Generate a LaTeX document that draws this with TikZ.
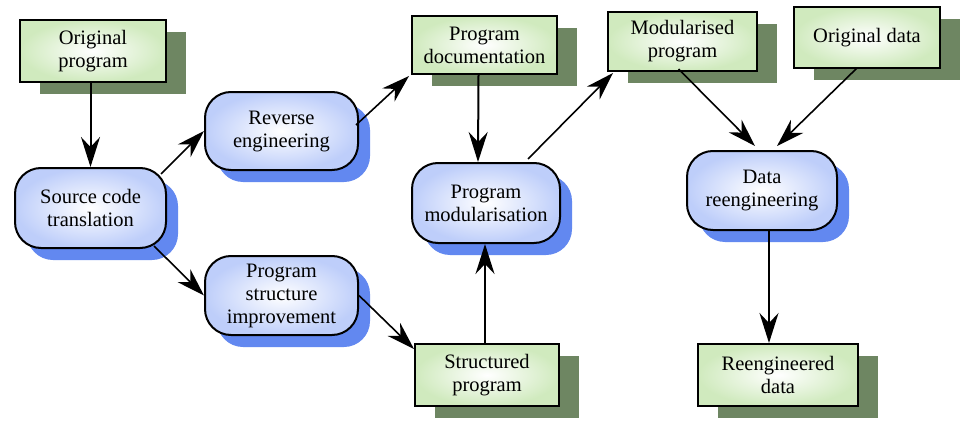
\documentclass[tikz,border=0pt]{standalone}
\usepackage{fontspec}
\setmainfont{Liberation Serif}
\usetikzlibrary{arrows.meta,shadows,calc}
\definecolor{gshadow}{RGB}{110,134,98}
\definecolor{bshadow}{RGB}{98,136,240}
\definecolor{gedge}{RGB}{208,234,190}
\definecolor{bedge}{RGB}{190,206,250}
\tikzset{
  txt/.style={font=\fontsize{20.5}{23}\selectfont, align=center, inner sep=0pt},
  databox/.style={txt, draw=black, line width=2pt, rectangle,
    inner color=white, outer color=gedge,
    general shadow={shadow xshift=20pt, shadow yshift=-12pt, fill=gshadow}},
  procbox/.style={txt, draw=black, line width=2pt, rectangle, rounded corners=26pt,
    inner color=white, outer color=bedge,
    general shadow={shadow xshift=12pt, shadow yshift=-12pt, fill=bshadow}},
  conn/.style={line width=2pt, -{Stealth[length=30pt, width=19pt, inset=10pt]}},
  connd/.style={line width=1.6pt, -{Stealth[length=28pt, width=18pt, inset=9pt]}}
}
\begin{document}
\begin{tikzpicture}[x=1pt, y=-1pt]
\useasboundingbox (0,0) rectangle (966,436);
% data boxes
\node[databox, minimum width=146pt, minimum height=62pt] (orig) at (93,51) {Original\\program};
\node[databox, minimum width=145pt, minimum height=58pt] (pdoc) at (484.5,45) {Program\\documentation};
\node[databox, minimum width=144pt, minimum height=62pt] (spg) at (487,375) {Structured\\program};
\node[databox, minimum width=149pt, minimum height=59pt] (modp) at (682.5,41.5) {Modularised\\program};
\node[databox, minimum width=146pt, minimum height=61pt] (odata) at (867,37.5) {Original data};
\node[databox, minimum width=160pt, minimum height=62pt] (rdata) at (778,375) {Reengineered\\data};
% process boxes
\node[procbox, minimum width=151pt, minimum height=80pt] (src) at (90.5,208) {Source code\\translation};
\node[procbox, minimum width=153pt, minimum height=78pt] (rev) at (281.5,131) {Reverse\\engineering};
\node[procbox, minimum width=153pt, minimum height=79pt] (psi) at (281.5,295.5) {Program\\structure\\improvement};
\node[procbox, minimum width=148pt, minimum height=80pt] (pmod) at (486,203) {Program\\modularisation};
\node[procbox, minimum width=150pt, minimum height=79pt] (dre) at (762,190.5) {Data\\reengineering};
% connectors
\draw[conn] (orig.south -| src.north) -- (src.north);
\draw[connd] ($(src.north east)+(-6,7)$) -- (rev.west);
\draw[connd] ($(src.south east)+(-13,-3)$) -- (psi.west);
\draw[connd] ($(rev.east)+(-3,-6)$) -- ($(pdoc.south west)+(-2,1)$);
\draw[conn] ($(pdoc.south)+(-6,0)$) -- ($(pmod.north)+(-8,0)$);
\draw[connd] ($(pmod.north)+(42,-3)$) -- ($(modp.south west)+(6,1)$);
\draw[connd] (psi.east) -- ($(spg.north west)+(0,6)$);
\draw[conn] ($(spg.north)+(-2,0)$) -- ($(pmod.south)+(-1,0)$);
\draw[connd] ($(modp.south)+(-4,-3)$) -- ($(dre.north)+(-7,-4)$);
\draw[connd] ($(odata.south)+(-10,-1)$) -- ($(dre.north)+(15,-4)$);
\draw[conn] ($(dre.south)+(7,0)$) -- ($(rdata.north)+(-9,0)$);
\end{tikzpicture}
\end{document}
